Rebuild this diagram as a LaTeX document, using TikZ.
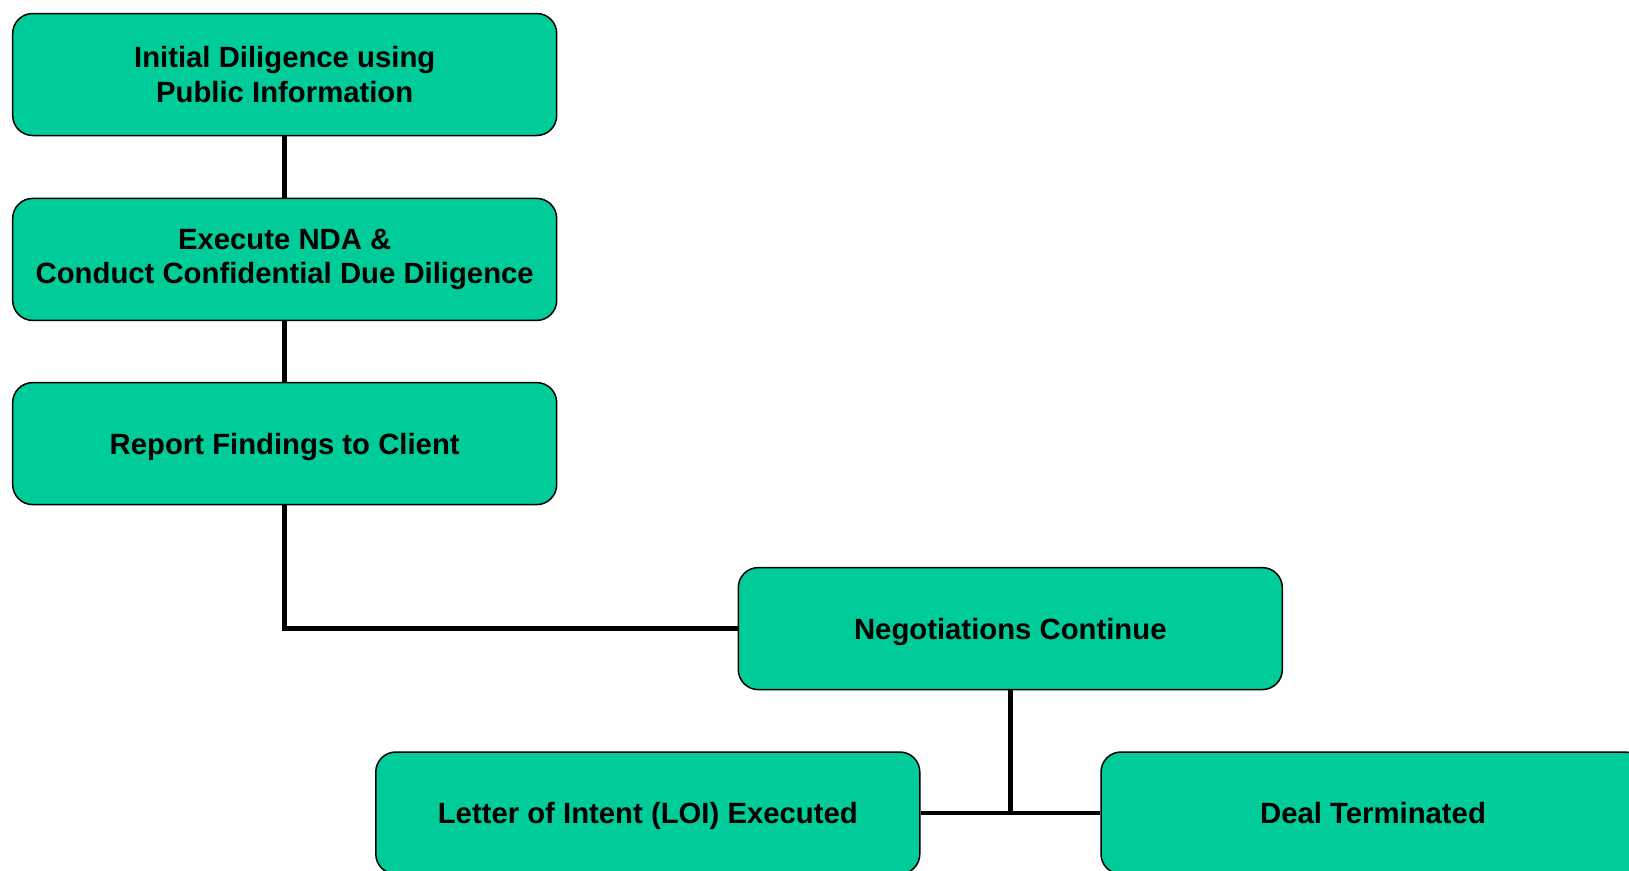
\documentclass[tikz,border=0pt]{standalone}
\usepackage{fontspec}
\setmainfont{Liberation Sans}
\definecolor{boxgreen}{RGB}{0,204,153}
\begin{document}
\begin{tikzpicture}[x=1pt,y=-1pt,
  stage/.style={draw=black, line width=1.5pt, fill=boxgreen, rounded corners=20pt,
    minimum width=544pt, minimum height=122pt, inner sep=0pt, align=center,
    font=\fontsize{29.3}{34.5}\selectfont\bfseries},
  oneline/.style={stage, text depth=0pt},
  link/.style={line width=4.5pt, draw=black}]
\useasboundingbox (0,0) rectangle (1629,870);
\node[stage] (b1) at (284.7,74.5) {Initial Diligence using\\Public Information};
\node[stage] (b2) at (284.7,259.4) {Execute NDA \&\\Conduct Confidential Due Diligence};
\node[oneline] (b3) at (284.7,443.6) {Report Findings to Client};
\node[oneline] (b4) at (1010.3,628.6) {Negotiations Continue};
\node[oneline] (b5) at (647.8,813) {Letter of Intent (LOI) Executed};
\node[oneline] (b6) at (1373,813) {Deal Terminated};
\coordinate (j) at (b4.south |- b5.east);
\draw[link] (b1.south) -- (b2.north);
\draw[link] (b2.south) -- (b3.north);
\draw[link] (b3.south) |- (b4.west);
\draw[link] (b4.south) -- (j);
\draw[link] (b5.east) -- (b6.west);
\end{tikzpicture}
\end{document}
